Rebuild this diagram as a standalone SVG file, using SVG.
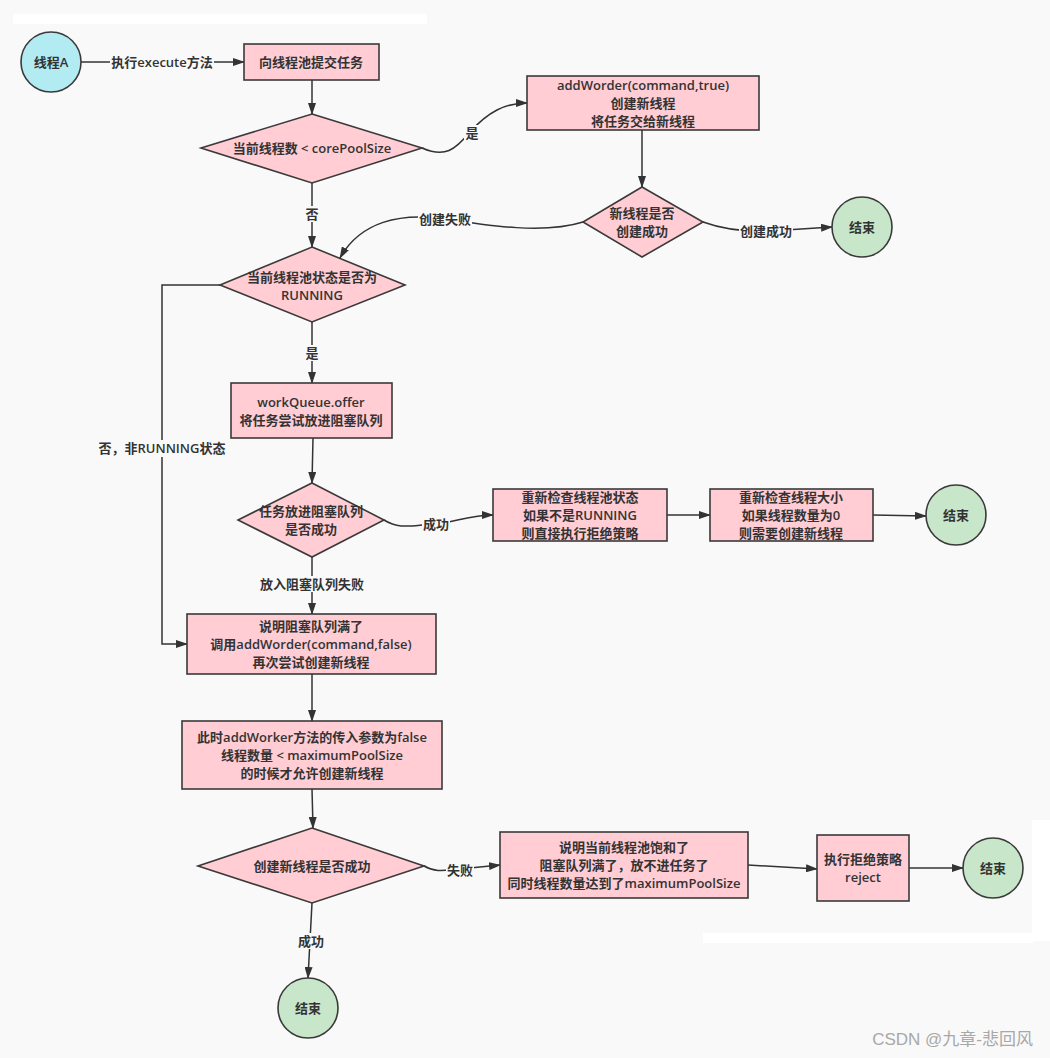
<svg xmlns="http://www.w3.org/2000/svg" width="1050" height="1058" viewBox="0 0 1050 1058">
<defs>
<style>
.t{font-family:"Open Sans","Noto Sans CJK SC",sans-serif;font-size:13px;font-weight:600;fill:#333;text-anchor:middle;dominant-baseline:central}
.n{fill:#ffcdd3;stroke:#3a3a3a;stroke-width:1.6}
.s{fill:#b2ebf2;stroke:#3a3a3a;stroke-width:1.6}
.e{fill:#c8e6c9;stroke:#3a3a3a;stroke-width:1.6}
.c{fill:none;stroke:#333;stroke-width:1.5;marker-end:url(#ah)}
.lb{fill:#f9f9f9}
</style>
<marker id="ah" viewBox="0 0 12 8" refX="11" refY="4" markerWidth="12" markerHeight="8" markerUnits="userSpaceOnUse" orient="auto">
<path d="M0,0 L12,4 L0,8 z" fill="#333"/>
</marker>
</defs>
<rect width="1050" height="1058" fill="#f9f9f9"/>
<rect x="13" y="14" width="414" height="10" fill="#ffffff"/>
<rect x="703" y="933" width="330" height="10" fill="#ffffff"/>
<rect x="1032" y="820" width="18" height="121" fill="#ffffff"/>

<g id="connectors">
<path class="c" d="M81,62 L244,62"/>
<path class="c" d="M312,80 L312,114"/>
<path class="c" d="M422,148 C445,158 455,150 470,132 C488,112 505,103 527,103"/>
<path class="c" d="M642,130 L642,187"/>
<path class="c" d="M703,222 C725,230 745,232 770,231 L832,227"/>
<path class="c" d="M583,222 C545,234 490,226 445,219 C400,212 360,222 340,258"/>
<path class="c" d="M312,183 L312,247"/>
<path class="c" d="M220,285 L162,285 L162,644 L187,644"/>
<path class="c" d="M312,322 L312,383"/>
<path class="c" d="M313,438 L312,483"/>
<path class="c" d="M384,520 C400,530 412,525 436,524 C456,522 470,515 493,515"/>
<path class="c" d="M667,515 L710,515"/>
<path class="c" d="M873,515 L926,516"/>
<path class="c" d="M312,557 L312,614"/>
<path class="c" d="M312,674 L312,721"/>
<path class="c" d="M312,789 L313,828"/>
<path class="c" d="M424,866 C436,873 446,870 460,869 L500,865"/>
<path class="c" d="M748,865 L817,869"/>
<path class="c" d="M909,868 L963,868"/>
<path class="c" d="M312,903 L308,978"/>
<rect class="lb" x="110" y="54" width="104" height="16"/>
<text class="t" x="162" y="62">执行execute方法</text>
<rect class="lb" x="464" y="125" width="16" height="16"/>
<text class="t" x="472" y="133">是</text>
<rect class="lb" x="304" y="206" width="16" height="16"/>
<text class="t" x="312" y="214">否</text>
<rect class="lb" x="418" y="211" width="54" height="16"/>
<text class="t" x="445" y="219">创建失败</text>
<rect class="lb" x="739" y="223" width="54" height="16"/>
<text class="t" x="766" y="231">创建成功</text>
<rect class="lb" x="304" y="345" width="16" height="16"/>
<text class="t" x="312" y="353">是</text>
<rect class="lb" x="96" y="440" width="132" height="17"/>
<text class="t" x="162" y="448">否，非RUNNING状态</text>
<rect class="lb" x="422" y="516" width="28" height="16"/>
<text class="t" x="436" y="524">成功</text>
<rect class="lb" x="259" y="576" width="106" height="16"/>
<text class="t" x="312" y="584">放入阻塞队列失败</text>
<rect class="lb" x="446" y="862" width="28" height="16"/>
<text class="t" x="460" y="870">失败</text>
<rect class="lb" x="297" y="933" width="28" height="16"/>
<text class="t" x="311" y="941">成功</text>
</g>

<g id="start">
<circle class="s" cx="51" cy="62" r="30"/>
<text class="t" x="51" y="62">线程A</text>
</g>
<g id="submit">
<rect class="n" x="244" y="44" width="135" height="36"/>
<text class="t" x="311" y="62">向线程池提交任务</text>
</g>
<g id="d_core">
<polygon class="n" points="312,114 422,148 312,183 201,148"/>
<text class="t" x="312" y="148">当前线程数 &lt; corePoolSize</text>
</g>
<g id="add_true">
<rect class="n" x="527" y="76" width="232" height="54"/>
<text class="t"><tspan x="643" y="85">addWorder(command,true)</tspan><tspan x="643" y="103">创建新线程</tspan><tspan x="643" y="121">将任务交给新线程</tspan></text>
</g>
<g id="d_created">
<polygon class="n" points="642,187 703,222 642,257 583,222"/>
<text class="t"><tspan x="642" y="213">新线程是否</tspan><tspan x="642" y="231">创建成功</tspan></text>
</g>
<g id="end1">
<circle class="e" cx="862" cy="227" r="30"/>
<text class="t" x="862" y="227">结束</text>
</g>
<g id="d_running">
<polygon class="n" points="312,247 405,285 312,322 220,285"/>
<text class="t"><tspan x="312" y="277">当前线程池状态是否为</tspan><tspan x="312" y="295">RUNNING</tspan></text>
</g>
<g id="offer">
<rect class="n" x="231" y="383" width="161" height="55"/>
<text class="t"><tspan x="311" y="402">workQueue.offer</tspan><tspan x="311" y="420">将任务尝试放进阻塞队列</tspan></text>
</g>
<g id="d_offer">
<polygon class="n" points="312,483 384,520 312,557 238,520"/>
<text class="t"><tspan x="311" y="511">任务放进阻塞队列</tspan><tspan x="311" y="529">是否成功</tspan></text>
</g>
<g id="recheck_state">
<rect class="n" x="493" y="489" width="174" height="52"/>
<text class="t"><tspan x="580" y="497">重新检查线程池状态</tspan><tspan x="580" y="515">如果不是RUNNING</tspan><tspan x="580" y="533">则直接执行拒绝策略</tspan></text>
</g>
<g id="recheck_size">
<rect class="n" x="710" y="489" width="163" height="52"/>
<text class="t"><tspan x="791" y="497">重新检查线程大小</tspan><tspan x="791" y="515">如果线程数量为0</tspan><tspan x="791" y="533">则需要创建新线程</tspan></text>
</g>
<g id="end2">
<circle class="e" cx="956" cy="515" r="30"/>
<text class="t" x="956" y="515">结束</text>
</g>
<g id="add_false">
<rect class="n" x="187" y="614" width="249" height="60"/>
<text class="t"><tspan x="311" y="626">说明阻塞队列满了</tspan><tspan x="311" y="644">调用addWorder(command,false)</tspan><tspan x="311" y="662">再次尝试创建新线程</tspan></text>
</g>
<g id="max_note">
<rect class="n" x="182" y="721" width="260" height="68"/>
<text class="t"><tspan x="312" y="737">此时addWorker方法的传入参数为false</tspan><tspan x="312" y="755">线程数量 &lt; maximumPoolSize</tspan><tspan x="312" y="773">的时候才允许创建新线程</tspan></text>
</g>
<g id="d_new">
<polygon class="n" points="312,828 424,866 312,903 198,866"/>
<text class="t" x="312" y="866">创建新线程是否成功</text>
</g>
<g id="saturated">
<rect class="n" x="500" y="832" width="248" height="66"/>
<text class="t"><tspan x="624" y="847">说明当前线程池饱和了</tspan><tspan x="624" y="865">阻塞队列满了，放不进任务了</tspan><tspan x="624" y="883">同时线程数量达到了maximumPoolSize</tspan></text>
</g>
<g id="reject">
<rect class="n" x="817" y="835" width="92" height="66"/>
<text class="t"><tspan x="863" y="859">执行拒绝策略</tspan><tspan x="863" y="877">reject</tspan></text>
</g>
<g id="end3">
<circle class="e" cx="993" cy="868" r="30"/>
<text class="t" x="993" y="868">结束</text>
</g>
<g id="end4">
<ellipse class="e" cx="308" cy="1008" rx="30" ry="30"/>
<text class="t" x="308" y="1008">结束</text>
</g>
<text x="1033" y="1045" style="font-family:'Liberation Sans','Noto Sans CJK SC',sans-serif;font-size:17px;fill:#a8a8a8;text-anchor:end">CSDN @九章-悲回风</text>
</svg>
